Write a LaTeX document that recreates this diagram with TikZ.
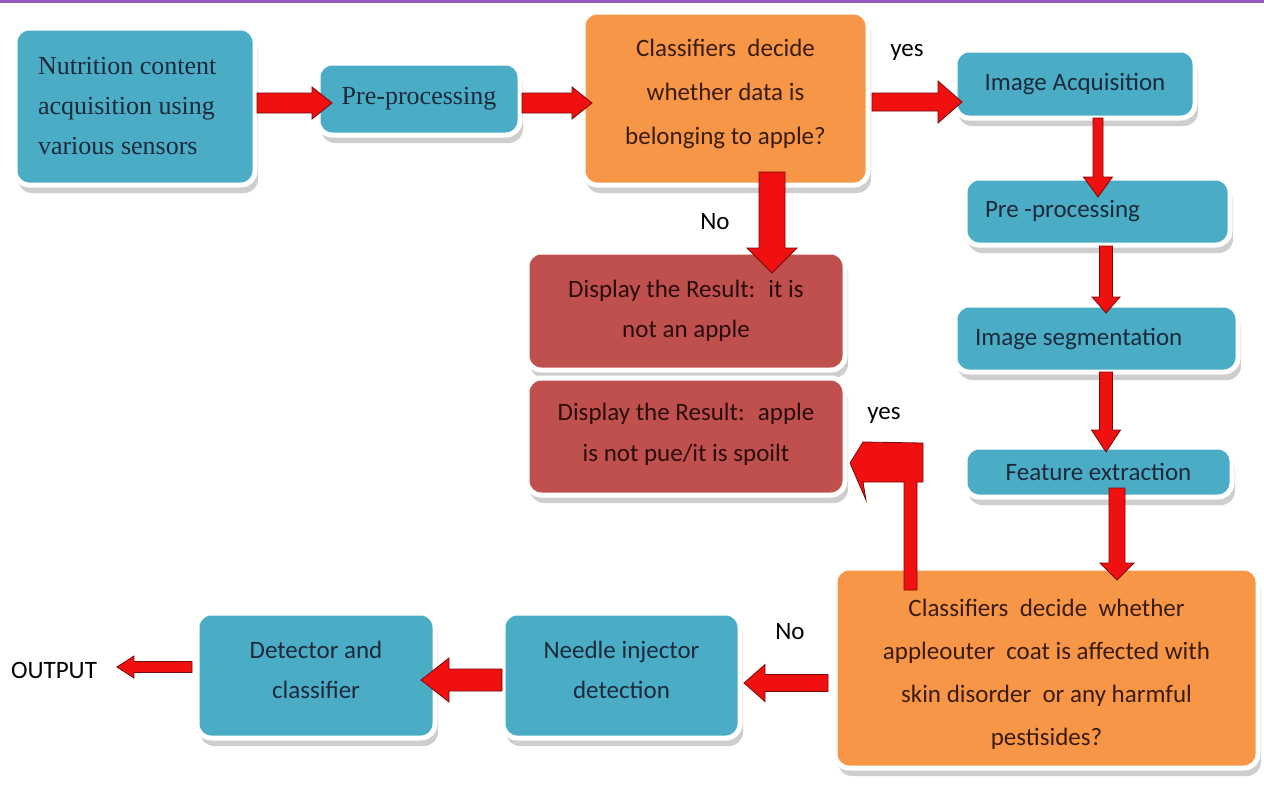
\documentclass[tikz,border=0pt]{standalone}
\usepackage{fontspec}
\setmainfont{Carlito}
\newfontfamily\serfont{Liberation Serif}
\usetikzlibrary{calc,shadows}
\definecolor{boxblue}{HTML}{4BACC6}
\definecolor{boxorange}{HTML}{F79646}
\definecolor{boxred}{HTML}{C0504D}
\definecolor{arrred}{HTML}{F01010}
\definecolor{arrborder}{HTML}{7A0A0A}
\definecolor{topline}{HTML}{9159C0}
\definecolor{bluetext}{HTML}{1C2A3A}
\definecolor{orangetext}{HTML}{3A1C0C}
\definecolor{redtext}{HTML}{2A0C0C}
\newcommand\blockarrow[5]{%
  \coordinate (ba-h) at ($(#2)!#5!(#1)$);
  \draw[arrowsty] ($(#1)!#3!90:(#2)$) -- ($(ba-h)!#3!90:(#2)$) -- ($(ba-h)!#4!90:(#2)$) -- (#2)
    -- ($(ba-h)!#4!-90:(#2)$) -- ($(ba-h)!#3!-90:(#2)$) -- ($(#1)!#3!-90:(#2)$) -- cycle;}
% struts to move a node's text block up or down
\newcommand\topstrut[1]{\rule{0pt}{#1}}
\newcommand\botstrut[1]{\rule[-#1]{0pt}{#1}}
\tikzset{
  box/.style={rounded corners=14pt, draw=white, line width=5pt, outer sep=0pt,
    drop shadow={shadow xshift=3pt, shadow yshift=-8pt, fill=black!38},
    font=\fontsize{25}{43}\selectfont, align=center, inner sep=0pt},
  bluebox/.style={box, fill=boxblue, text=bluetext},
  orangebox/.style={box, fill=boxorange, text=orangetext},
  redbox/.style={box, fill=boxred, text=redtext},
  arrowsty/.style={fill=arrred, draw=arrborder, line width=0.8pt, line join=miter},
  lbl/.style={font=\fontsize{25}{30}\selectfont, text=black, inner sep=0pt, outer sep=0pt}
}
\begin{document}
\begin{tikzpicture}[x=1pt,y=-1pt]
\useasboundingbox (0,0) rectangle (1264,785);
\fill[white] (0,0) rectangle (1264,785);
\fill[topline] (0,0) rectangle (1264,3);

% boxes
\node[bluebox, minimum width=240pt, minimum height=157pt, text width=194pt, align=flush left,
  font=\serfont\fontsize{26}{40}\selectfont] (nut) at (135,106.5)
  {Nutrition content\\acquisition using\\various sensors};
\node[bluebox, minimum width=202pt, minimum height=72pt, font=\serfont\fontsize{26}{30}\selectfont]
  (pre1) at (419,99) {Pre-processing};
\node[orangebox, minimum width=285pt, minimum height=173pt, font=\fontsize{25}{44}\selectfont]
  (cls1) at (725.5,98.5)
  {Classifiers~ decide\\whether data is\\belonging to apple?\botstrut{13pt}};
\node[bluebox, minimum width=240pt, minimum height=68pt] (imgacq) at (1075,84) {Image Acquisition};
\node[bluebox, minimum width=265pt, minimum height=67pt, text width=225pt, align=flush left]
  (pre2) at (1097.5,211.5) {Pre -processing};
\node[bluebox, minimum width=283pt, minimum height=67pt, text width=243pt, align=flush left]
  (seg) at (1096.5,338.5) {Image segmentation};
\node[bluebox, minimum width=267pt, minimum height=50pt] (feat) at (1098.5,472) {Feature extraction};
\node[orangebox, minimum width=423pt, minimum height=200pt] (cls2) at (1046.5,668)
  {\topstrut{30pt}Classifiers~ decide~ whether\\appleouter~ coat is affected with\\skin disorder~ or any harmful\\pestisides?};
\node[bluebox, minimum width=237pt, minimum height=125pt, font=\fontsize{25}{40}\selectfont]
  (needle) at (621.5,675.5) {Needle injector\\detection\botstrut{11pt}};
\node[bluebox, minimum width=238pt, minimum height=125pt, font=\fontsize{25}{40}\selectfont]
  (det) at (316,675.5) {Detector and\\classifier\botstrut{11pt}};
\node[redbox, minimum width=318pt, minimum height=118pt, font=\fontsize{25}{40}\selectfont]
  (red1) at (686,311) {Display the Result:~ it is\\not an apple};
\node[redbox, minimum width=318pt, minimum height=117pt, font=\fontsize{25}{41}\selectfont]
  (red2) at (686,436.5) {Display the Result:~ apple\\is not pue/it is spoilt\botstrut{8pt}};

% labels
\node[lbl] (output) at (54,670) {OUTPUT};
\node[lbl] (yes1) at (907,52) {yes};
\node[lbl] (no1) at (715,222) {No};
\node[lbl] (yes2) at (884,415) {yes};
\node[lbl] (no2) at (790,632) {No};

% arrows
\blockarrow{$(nut.east)+(2,-3.5)$}{$(pre1.west)+(14,4)$}{10pt}{16pt}{20pt}
\blockarrow{$(pre1.east)+(2,4)$}{$(cls1.west)+(9,4.5)$}{10pt}{16pt}{20pt}
\blockarrow{$(cls1.east)+(4,3.5)$}{$(imgacq.west)+(7,18)$}{9pt}{21pt}{24pt}
\blockarrow{$(imgacq.south)+(23,0)$}{$(pre2.north)+(0.5,19)$}{5pt}{14.5pt}{20pt}
\blockarrow{$(pre2.south)+(8.5,1)$}{$(seg.north)+(9.5,8)$}{6.5pt}{14pt}{16pt}
\blockarrow{$(seg.south)+(9.5,0)$}{$(feat.north)+(7.5,5)$}{6.5pt}{14.5pt}{22pt}
\blockarrow{$(feat.south)+(18.5,-9)$}{$(cls2.north)+(70.5,12)$}{8pt}{17pt}{17pt}
\blockarrow{$(cls1.south)+(46.5,-13)$}{$(red1.north)+(86,21)$}{13pt}{25pt}{25pt}
\blockarrow{$(cls2.west)+(-7,15)$}{$(needle.east)+(4,7.5)$}{8.5pt}{18.5pt}{21pt}
\blockarrow{$(needle.west)+(-1,4.5)$}{$(det.east)+(-14,4.5)$}{11pt}{22pt}{28pt}
\blockarrow{$(det.west)+(-5,-8.5)$}{$(output.east)+(20,-3)$}{5.5pt}{11pt}{17pt}

% bent arrow (yes) from cls2 to red2
\coordinate (bs) at ($(cls2.north west)+(76,22)$);
\coordinate (bt) at ($(red2.east)+(5,26.5)$);
\draw[arrowsty] ($(bs)+(-7,0)$) |- ($(bt)+(13,19)$) -- ($(bt)+(16,37)$) -- (bt)
  -- ($(bt)+(13,-21)$) -- ($(bt)+(73,-20)$) -- ($(bt)+(73,19)$) -- ($(bt)+(67,19)$)
  |- ($(bs)+(6,0)$) -- cycle;
\end{tikzpicture}
\end{document}
